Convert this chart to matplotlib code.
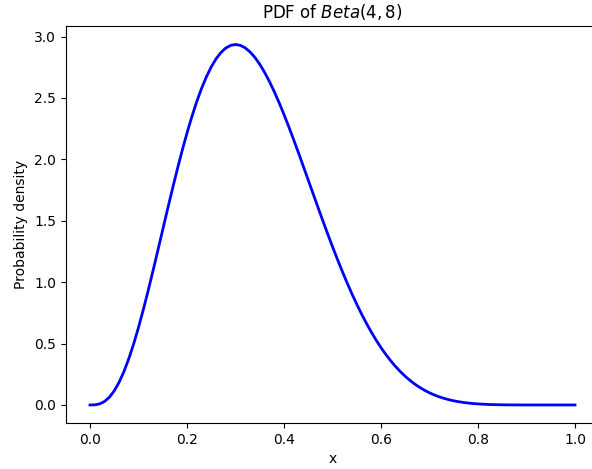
import matplotlib
matplotlib.use("Agg")
import matplotlib.pyplot as plt

# Density values of Beta(4, 8) read along x (step 0.01)
x_values = [i / 100 for i in range(101)]
density = [
    0.0, 0.00123, 0.00917, 0.02880, 0.06348, 0.11523, 0.18490, 0.27243, 0.37702, 0.49727,
    0.63135, 0.77711, 0.93218, 1.09406, 1.26023, 1.42817, 1.59547, 1.75981, 1.91909, 2.07124,
    2.21459, 2.34760, 2.46896, 2.57746, 2.67238, 2.75311, 2.81911, 2.87029, 2.90665, 2.92803,
    2.93511, 2.92823, 2.90795, 2.87500, 2.83023, 2.77440, 2.70855, 2.63369, 2.55075, 2.46077,
    2.36490, 2.26411, 2.15934, 2.05165, 1.94200, 1.83122, 1.72027, 1.60988, 1.50083, 1.39365,
    1.28906, 1.18756, 1.08962, 0.99560, 0.90586, 0.82064, 0.74013, 0.66448, 0.59375, 0.52797,
    0.46714, 0.41116, 0.35993, 0.31333, 0.27116, 0.23323, 0.19932, 0.16920, 0.14261, 0.11931,
    0.09902, 0.08150, 0.06648, 0.05371, 0.04296, 0.03399, 0.02658, 0.02052, 0.01563, 0.01172,
    0.00865, 0.00627, 0.00446, 0.00310, 0.00210, 0.00139, 0.00089, 0.00055, 0.00032, 0.00018,
    0.00010, 0.00005, 0.00002, 0.00001, 0.0, 0.0, 0.0, 0.0, 0.0, 0.0,
    0.0,
]

fig = plt.figure(figsize=(5.92, 4.69), dpi=100)
ax = fig.add_axes([65.75 / 592, 46 / 469, 533.5 / 592, 396.5 / 469])
ax.plot(x_values, density, color="blue", linewidth=2)
ax.spines["right"].set_visible(False)
ax.set_title("PDF of $Beta(4, 8)$")
ax.set_xlabel("x")
ax.set_ylabel("Probability density")
fig.savefig("out.png", dpi=100)
